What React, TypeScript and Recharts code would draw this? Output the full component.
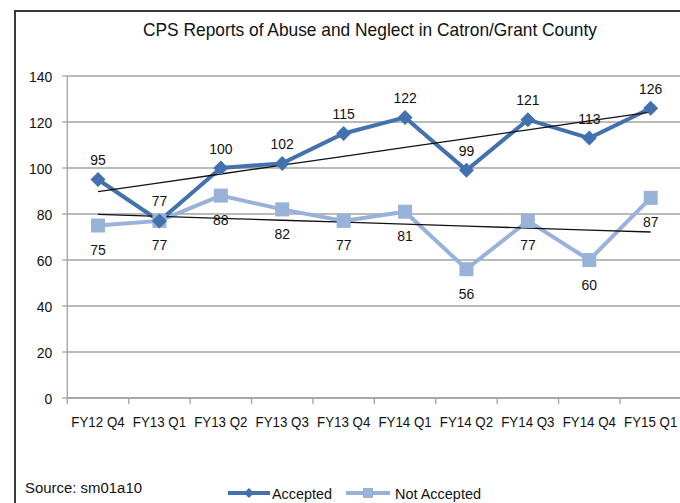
import React from 'react';
import { LineChart, Line, XAxis, YAxis, CartesianGrid, Legend, LabelList } from 'recharts';

// quarterly CPS report counts, Catron/Grant County
const quarters = ['FY12 Q4', 'FY13 Q1', 'FY13 Q2', 'FY13 Q3', 'FY13 Q4', 'FY14 Q1', 'FY14 Q2', 'FY14 Q3', 'FY14 Q4', 'FY15 Q1'];
const accepted = [95, 77, 100, 102, 115, 122, 99, 121, 113, 126];
const notAccepted = [75, 77, 88, 82, 77, 81, 56, 77, 60, 87];
const yTicks = [0, 20, 40, 60, 80, 100, 120, 140];

const ACC_COLOR = '#4271AE';
const NA_COLOR = '#98B2DA';
const GRID = '#a3a3a3';
const FONT = '"Liberation Sans", Arial, sans-serif';
const NARROW = 0.9;
const BAND = 61.4;

// linear least-squares fit, like Excel's trendline
function trend(values: number[]) {
  const n = values.length;
  const mx = (n - 1) / 2;
  const my = values.reduce((a, b) => a + b, 0) / n;
  let sxy = 0;
  let sxx = 0;
  values.forEach((v, i) => {
    sxy += (i - mx) * (v - my);
    sxx += (i - mx) * (i - mx);
  });
  const slope = sxy / sxx;
  return values.map((_, i) => my + slope * (i - mx));
}

const accTrend = trend(accepted);
const naTrend = trend(notAccepted);

const data = quarters.map((q, i) => ({
  quarter: q,
  accepted: accepted[i],
  notAccepted: notAccepted[i],
  accTrend: accTrend[i],
  naTrend: naTrend[i],
}));

const XTick = ({ x, y, payload }: any) => (
  <g>
    <line x1={x - BAND / 2} x2={x - BAND / 2} y1={y - 18} y2={y - 12} stroke={GRID} strokeWidth={1.3} />
    <g transform={`translate(${x},${y}) scale(0.86,1)`}>
      <text x={0} y={0} dy="0.72em" textAnchor="middle" fontFamily={FONT} fontSize={15.5} fill="#111">
        {payload.value}
      </text>
    </g>
  </g>
);

const YTick = ({ x, y, payload }: any) => (
  <g transform={`translate(${x},${y}) scale(${NARROW},1)`}>
    <text x={0} y={0} dy="0.36em" textAnchor="end" fontFamily={FONT} fontSize={15.5} fill="#111">
      {payload.value}
    </text>
  </g>
);

const Diamond = ({ cx, cy }: any) => {
  if (cx == null || cy == null) return null;
  const r = 7.5;
  return <polygon points={`${cx},${cy - r} ${cx + r},${cy} ${cx},${cy + r} ${cx - r},${cy}`} fill={ACC_COLOR} />;
};

const Square = ({ cx, cy }: any) => {
  if (cx == null || cy == null) return null;
  return <rect x={cx - 7} y={cy - 7} width={14} height={14} fill={NA_COLOR} />;
};

const makeLabel = (dy: number) => ({ x, y, value }: any) => (
  <g transform={`translate(${x},${y + dy}) scale(${NARROW},1)`}>
    <text x={0} y={0} dy="0.36em" textAnchor="middle" fontFamily={FONT} fontSize={15.5} fill="#111">
      {value}
    </text>
  </g>
);

const LegendContent = () => (
  <svg width={680} height={26} style={{ display: 'block' }}>
    <line x1={228} x2={270} y1={13} y2={13} stroke={ACC_COLOR} strokeWidth={4} />
    <polygon points="249,8 254,13 249,18 244,13" fill={ACC_COLOR} />
    <text x={272} y={13} dy="0.36em" fontFamily={FONT} fontSize={15.5} fill="#111" textLength={60} lengthAdjust="spacingAndGlyphs">
      Accepted
    </text>
    <line x1={346} x2={390} y1={13} y2={13} stroke={NA_COLOR} strokeWidth={4} />
    <rect x={363} y={8} width={10} height={10} fill={NA_COLOR} />
    <text x={395} y={13} dy="0.36em" fontFamily={FONT} fontSize={15.5} fill="#111" textLength={86} lengthAdjust="spacingAndGlyphs">
      Not Accepted
    </text>
  </svg>
);

export default function App() {
  return (
    <div style={{ position: 'fixed', left: 0, top: 0, width: 680, height: 503, overflow: 'hidden', background: '#fff' }}>
      <div style={{ position: 'absolute', left: 14, top: 10, width: 720, height: 540, border: '2px solid #3a3a3a', boxSizing: 'border-box' }} />
      <svg width={680} height={503} style={{ position: 'absolute', left: 0, top: 0 }}>
        <text x={370} y={29} dy="0.36em" textAnchor="middle" fontFamily={FONT} fontSize={19} fill="#111" textLength={454} lengthAdjust="spacingAndGlyphs">
          CPS Reports of Abuse and Neglect in Catron/Grant County
        </text>
        <text x={25} y={487} dy="0.36em" fontFamily={FONT} fontSize={15.5} fill="#111" textLength={117} lengthAdjust="spacingAndGlyphs">
          Source:  sm01a10
        </text>
      </svg>
      <div style={{ position: 'absolute', left: 0, top: 0 }}>
        <LineChart width={700} height={503} data={data} margin={{ top: 76, right: 18.6, bottom: 75, left: 7.3 }}>
          <CartesianGrid vertical={false} stroke={GRID} strokeWidth={1.3} />
          <XAxis
            dataKey="quarter"
            height={30}
            padding={{ left: BAND / 2, right: BAND / 2 }}
            tickLine={false}
            tickSize={6}
            tickMargin={12}
            interval={0}
            axisLine={{ stroke: GRID, strokeWidth: 1.3 }}
            tick={<XTick />}
          />
          <YAxis
            width={60}
            domain={[0, 140]}
            ticks={yTicks}
            interval={0}
            tickSize={5}
            tickMargin={10}
            tickLine={{ stroke: GRID, strokeWidth: 1.3 }}
            axisLine={{ stroke: GRID, strokeWidth: 1.3 }}
            tick={<YTick />}
          />
          <Legend
            layout="horizontal"
            verticalAlign="middle"
            align="center"
            wrapperStyle={{ top: 480, left: 0, width: 680 }}
            content={<LegendContent />}
          />
          <Line
            type="linear"
            dataKey="notAccepted"
            name="Not Accepted"
            stroke={NA_COLOR}
            strokeWidth={4}
            dot={<Square />}
            activeDot={false}
            isAnimationActive={false}
          >
            <LabelList dataKey="notAccepted" content={makeLabel(24)} />
          </Line>
          <Line
            type="linear"
            dataKey="accepted"
            name="Accepted"
            stroke={ACC_COLOR}
            strokeWidth={4}
            dot={<Diamond />}
            activeDot={false}
            isAnimationActive={false}
          >
            <LabelList dataKey="accepted" content={makeLabel(-20)} />
          </Line>
          <Line type="linear" dataKey="accTrend" stroke="#111" strokeWidth={1.3} dot={false} activeDot={false} legendType="none" isAnimationActive={false} />
          <Line type="linear" dataKey="naTrend" stroke="#111" strokeWidth={1.3} dot={false} activeDot={false} legendType="none" isAnimationActive={false} />
        </LineChart>
      </div>
    </div>
  );
}
